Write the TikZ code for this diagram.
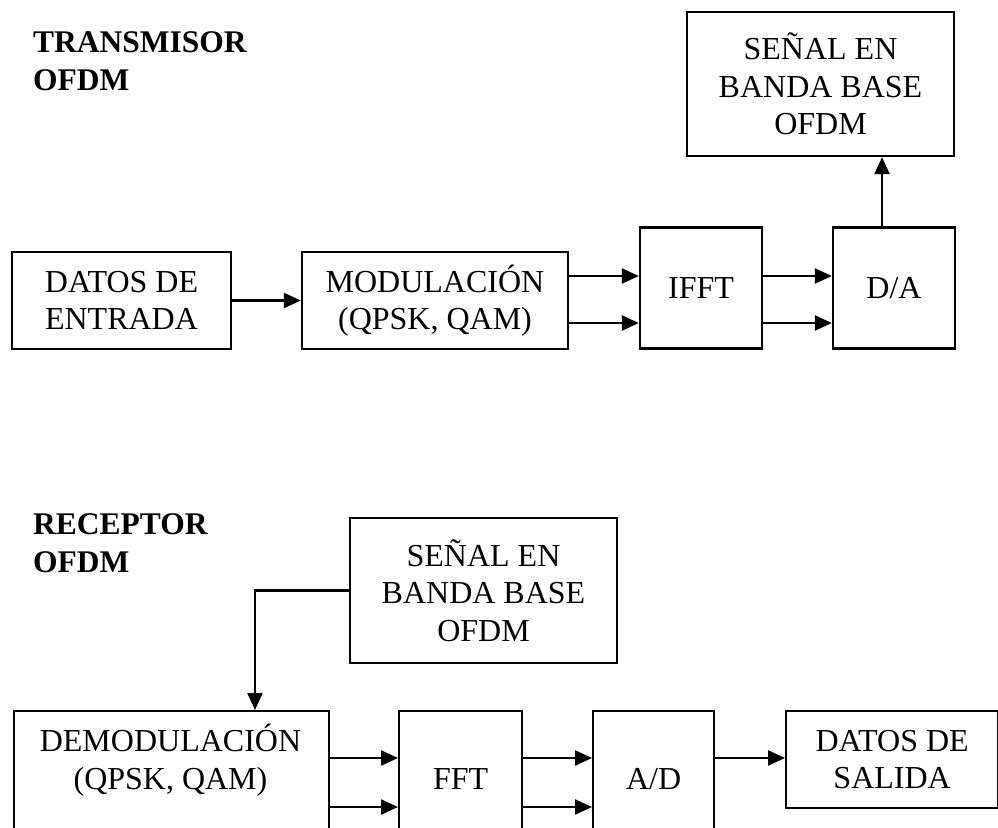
\documentclass[tikz,border=0pt]{standalone}
\usepackage{fontspec}
\setmainfont{Liberation Serif}
\usetikzlibrary{arrows.meta}
\begin{document}
\begin{tikzpicture}[x=1pt,y=-1pt,
  box/.style={draw, line width=2.3pt, inner sep=0pt, align=center,
    font=\fontsize{32}{37.5}\selectfont},
  txt/.style={inner sep=0pt, align=center, font=\fontsize{32}{37.5}\selectfont},
  ttl/.style={inner sep=0pt, align=left, anchor=west,
    font=\fontsize{31.5}{38.5}\selectfont\bfseries},
  arr/.style={line width=2.3pt, -{Triangle[length=17pt,width=15pt]}}]
\useasboundingbox (0,0) rectangle (998,827);
\clip (0,0) rectangle (998,827);
% ---- transmitter ----
\node[ttl] (t1) at (33,61) {TRANSMISOR\\OFDM};
\node[box, minimum width=219, minimum height=97] (din) at (121.5,300.5) {DATOS DE\\ENTRADA};
\node[box, minimum width=266, minimum height=97] (mod) at (435,300.5) {MODULACIÓN\\(QPSK, QAM)};
\node[box, minimum width=122, minimum height=121] (ifft) at (701,288) {IFFT};
\node[box, minimum width=122, minimum height=121] (da) at (894,288) {D/A};
\node[box, minimum width=267, minimum height=144] (sen1) at (820.5,84) {SEÑAL EN\\BANDA BASE\\OFDM};
\draw[arr] (din) -- (mod);
\draw[arr] (mod.east |- 0,276) -- (ifft.west |- 0,276);
\draw[arr] (mod.east |- 0,323) -- (ifft.west |- 0,323);
\draw[arr] (ifft.east |- 0,276) -- (da.west |- 0,276);
\draw[arr] (ifft.east |- 0,323) -- (da.west |- 0,323);
\draw[arr] (da.north -| 882,0) -- (sen1.south -| 882,0);
% ---- receiver ----
\node[ttl] (t2) at (33,543) {RECEPTOR\\OFDM};
\node[box, minimum width=267, minimum height=145] (sen2) at (483.5,590.5) {SEÑAL EN\\BANDA BASE\\OFDM};
\node[box, minimum width=315, minimum height=135, anchor=north west] (demod) at (13,710) {};
\node[txt] (demodtxt) at (170.5,760) {DEMODULACIÓN\\(QPSK, QAM)};
\node[box, minimum width=123, minimum height=135, anchor=north west] (fft) at (398,710) {FFT};
\node[box, minimum width=121, minimum height=135, anchor=north west] (ad) at (592,710) {A/D};
\node[box, minimum width=212, minimum height=97, anchor=north west] (dsal) at (785,710) {DATOS DE\\SALIDA};
\coordinate (dtop) at (255,710);
\draw[arr] (sen2.west) -| (dtop);
\draw[arr] (demod.east |- 0,758) -- (fft.west |- 0,758);
\draw[arr] (demod.east |- 0,807) -- (fft.west |- 0,807);
\draw[arr] (fft.east |- 0,758) -- (ad.west |- 0,758);
\draw[arr] (fft.east |- 0,807) -- (ad.west |- 0,807);
\draw[arr] (ad.east |- 0,758) -- (dsal.west |- 0,758);
\end{tikzpicture}
\end{document}
